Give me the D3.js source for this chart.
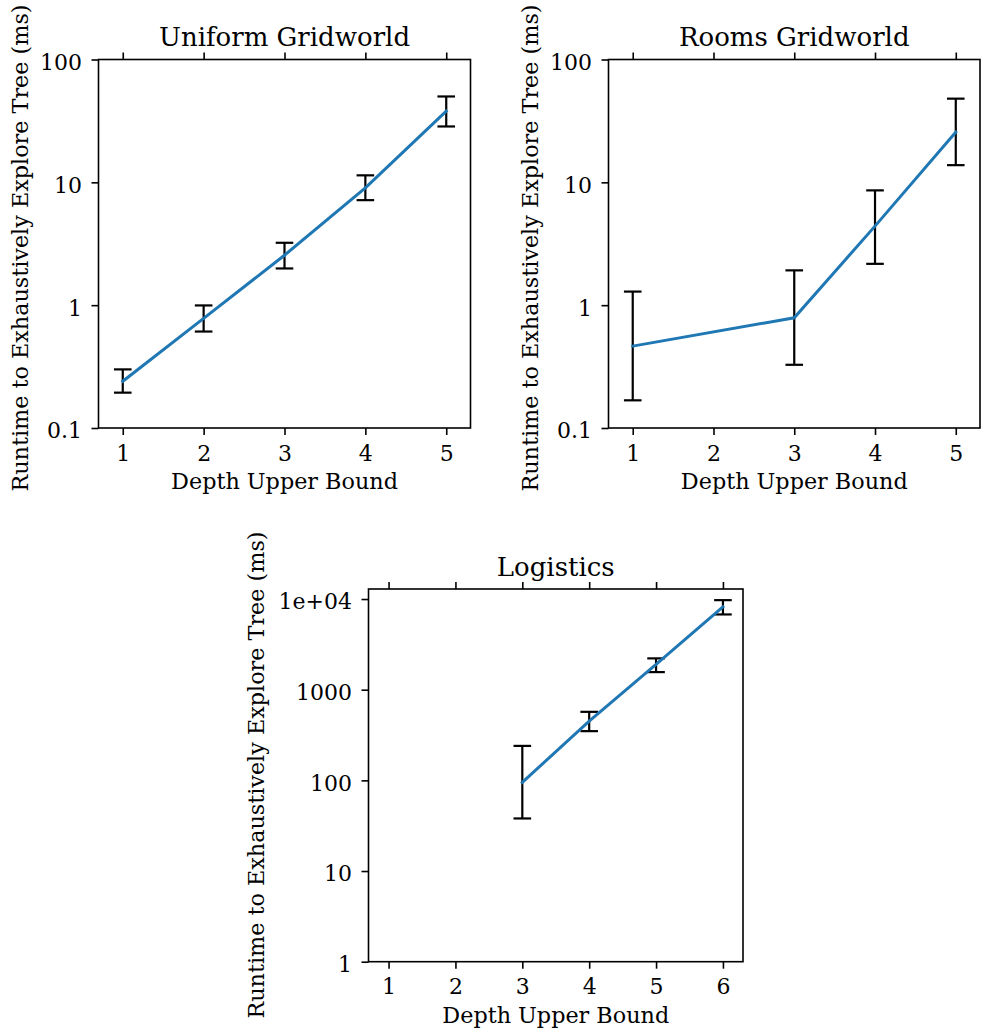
<!DOCTYPE html>
<html><head><meta charset="utf-8">
<script src="https://cdn.jsdelivr.net/npm/d3@7"></script>
<style>body{margin:0;background:#fff;} text{font-family:"DejaVu Serif",serif;fill:#000;}</style>
</head><body>
<svg id="chart" width="981" height="1034"></svg>
<script>
// ---- data ----
const uniformDepth = [1, 2, 3, 4, 5];
const uniformMean  = [0.24, 0.78, 2.55, 9.0, 38];
const uniformLow   = [0.194, 0.61, 1.99, 7.16, 28.5];
const uniformHigh  = [0.30, 0.995, 3.22, 11.4, 50];

const roomsDepth = [1, 3, 4, 5];
const roomsMean  = [0.464, 0.79, 4.4, 25.6];
const roomsLow   = [0.168, 0.327, 2.17, 13.8];
const roomsHigh  = [1.29, 1.92, 8.6, 48];

const logisticsDepth = [3, 4, 5, 6];
const logisticsMean  = [95, 451, 1900, 8200];
const logisticsLow   = [38, 349, 1563, 6760];
const logisticsHigh  = [240, 570, 2215, 9720];

const gridXTicks = [1, 2, 3, 4, 5];
const gridYTicks = [0.1, 1, 10, 100];
const gridYLabels = ["0.1", "1", "10", "100"];
const logXTicks = [1, 2, 3, 4, 5, 6];
const logYTicks = [1, 10, 100, 1000, 10000];
const logYLabels = ["1", "10", "100", "1000", "1e+04"];

const titles = ["Uniform Gridworld", "Rooms Gridworld", "Logistics"];
const xLabel = "Depth Upper Bound";
const yLabel = "Runtime to Exhaustively Explore Tree (ms)";

const svg = d3.select("#chart");
const BLUE = "#1f77b4";

function panel(cfg) {
  const {left, right, top, bottom, xDomain, yDomain, xTicks, yTicks, yLabels,
         depth, mean, low, high, title, ylabX, ylabY} = cfg;
  const x = d3.scaleLinear().domain(xDomain).range([left, right]);
  const y = d3.scaleLog().domain(yDomain).range([bottom, top]);
  const g = svg.append("g");

  // error bars
  const eb = g.append("g").attr("stroke", "#000").attr("stroke-width", 2.2).attr("fill", "none");
  depth.forEach((d, i) => {
    eb.append("line").attr("x1", x(d)).attr("x2", x(d)).attr("y1", y(low[i])).attr("y2", y(high[i]));
    [low[i], high[i]].forEach(v => {
      eb.append("line").attr("x1", x(d) - 8.8).attr("x2", x(d) + 8.8).attr("y1", y(v)).attr("y2", y(v));
    });
  });
  // line
  g.append("path")
    .datum(depth.map((d, i) => [d, mean[i]]))
    .attr("fill", "none").attr("stroke", BLUE).attr("stroke-width", 3)
    .attr("stroke-linecap", "square")
    .attr("d", d3.line().x(d => x(d[0])).y(d => y(d[1])));

  // axes
  const fmt = v => yLabels[yTicks.indexOf(v)];
  const axStyle = a => {
    a.select(".domain").remove();
    a.selectAll(".tick line").attr("stroke", "#000").attr("stroke-width", 1.6);
    a.selectAll(".tick text").attr("font-family", "DejaVu Serif").attr("font-size", 22).attr("fill", "#000");
  };
  g.append("g").attr("transform", `translate(0,${bottom})`)
    .call(d3.axisBottom(x).tickValues(xTicks).tickFormat(d3.format("d")).tickSizeInner(7).tickSizeOuter(0).tickPadding(10))
    .call(axStyle);
  g.append("g").attr("transform", `translate(0,${top})`)
    .call(d3.axisTop(x).tickValues(xTicks).tickFormat("").tickSizeInner(7).tickSizeOuter(0))
    .call(axStyle);
  g.append("g").attr("transform", `translate(${left},0)`)
    .call(d3.axisLeft(y).tickValues(yTicks).tickFormat(fmt).tickSizeInner(7).tickSizeOuter(0).tickPadding(9.5))
    .call(axStyle)
    .call(a => a.selectAll(".tick text").attr("dy", "0.45em"));

  // frame
  g.append("rect").attr("x", left).attr("y", top).attr("width", right - left).attr("height", bottom - top)
    .attr("fill", "none").attr("stroke", "#000").attr("stroke-width", 1.6);

  // title & labels
  g.append("text").attr("x", (left + right) / 2).attr("y", top - 13.5)
    .attr("text-anchor", "middle").attr("font-size", 26).text(title);
  g.append("text").attr("x", (left + right) / 2).attr("y", bottom + 61)
    .attr("text-anchor", "middle").attr("font-size", 22.3).text(xLabel);
  g.append("text").attr("transform", `translate(${ylabX},${ylabY}) rotate(-90)`)
    .attr("text-anchor", "middle").attr("font-size", 22.3).text(yLabel);
}

panel({left: 98.5, right: 470.5, top: 59.5, bottom: 428, xDomain: [0.7, 5.3], yDomain: [0.1, 100],
  xTicks: gridXTicks, yTicks: gridYTicks, yLabels: gridYLabels,
  depth: uniformDepth, mean: uniformMean, low: uniformLow, high: uniformHigh, title: titles[0], ylabX: 28, ylabY: 248});
panel({left: 608.5, right: 980, top: 59.5, bottom: 428, xDomain: [0.7, 5.3], yDomain: [0.1, 100],
  xTicks: gridXTicks, yTicks: gridYTicks, yLabels: gridYLabels,
  depth: roomsDepth, mean: roomsMean, low: roomsLow, high: roomsHigh, title: titles[1], ylabX: 538, ylabY: 248});
panel({left: 368.5, right: 743, top: 589, bottom: 961.7, xDomain: [0.7, 6.3], yDomain: [1, 12900],
  xTicks: logXTicks, yTicks: logYTicks, yLabels: logYLabels,
  depth: logisticsDepth, mean: logisticsMean, low: logisticsLow, high: logisticsHigh, title: titles[2], ylabX: 264, ylabY: 775});
</script>
</body></html>
